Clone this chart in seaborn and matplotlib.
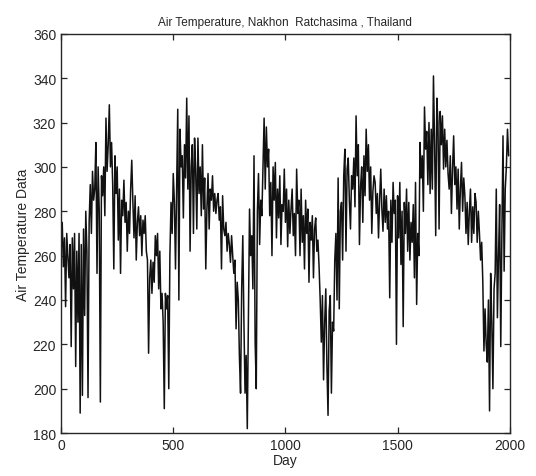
import numpy as np
import pandas as pd
import matplotlib
matplotlib.use("Agg")
import matplotlib.pyplot as plt
import seaborn as sns

# valores, um a cada 5 dias (blocos de 50 dias)
temp = [
    262, 275, 255, 268, 237, 270, 260, 250, 265, 219,
    268, 245, 270, 210, 262, 230, 270, 189, 265, 197,
    272, 233, 280, 262, 196, 275, 292, 270, 298, 285,
    290, 311, 252, 300, 280, 194, 296, 287, 300, 278,
    322, 298, 310, 328, 300, 311, 292, 254, 305, 288,
    300, 267, 290, 252, 285, 278, 294, 275, 284, 262,
    280, 270, 290, 303, 284, 268, 287, 258, 275, 282,
    269, 278, 260, 276, 270, 278, 262, 258, 216, 250,
    258, 243, 257, 248, 269, 260, 270, 245, 262, 236,
    243, 230, 191, 243, 236, 242, 200, 260, 284, 270,
    297, 284, 254, 290, 326, 240, 317, 300, 305, 277,
    310, 295, 331, 290, 323, 262, 300, 310, 270, 313,
    298, 272, 313, 288, 300, 278, 310, 281, 295, 254,
    281, 297, 272, 290, 285, 296, 280, 288, 279, 285,
    288, 276, 282, 254, 287, 272, 269, 275, 262, 270,
    265, 257, 269, 260, 252, 258, 227, 248, 240, 214,
    198, 245, 269, 230, 198, 215, 182, 230, 281, 260,
    269, 245, 305, 221, 200, 280, 297, 265, 285, 278,
    300, 322, 290, 318, 300, 308, 278, 293, 260, 300,
    285, 302, 268, 290, 277, 296, 265, 283, 280, 299,
    275, 290, 264, 285, 270, 281, 290, 269, 279, 260,
    299, 279, 285, 260, 290, 266, 278, 254, 285, 270,
    281, 248, 275, 267, 278, 250, 272, 277, 262, 267,
    255, 240, 221, 242, 204, 230, 245, 210, 188, 235,
    242, 198, 230, 226, 258, 270, 240, 295, 236, 280,
    284, 258, 296, 308, 262, 299, 304, 285, 272, 296,
    290, 304, 282, 323, 296, 310, 265, 291, 300, 275,
    305, 287, 317, 298, 310, 285, 300, 270, 289, 296,
    293, 279, 288, 268, 285, 299, 281, 271, 290, 275,
    287, 272, 280, 241, 285, 266, 293, 279, 285, 220,
    287, 268, 293, 256, 280, 228, 284, 270, 290, 262,
    284, 258, 275, 266, 283, 250, 293, 238, 270, 260,
    311, 295, 305, 280, 327, 308, 316, 292, 320, 288,
    317, 290, 341, 310, 269, 331, 320, 272, 325, 310,
    323, 299, 317, 300, 312, 297, 290, 305, 279, 299,
    314, 292, 300, 281, 299, 272, 290, 302, 280, 295,
    287, 270, 284, 265, 280, 290, 266, 282, 270, 288,
    284, 266, 280, 270, 258, 266, 248, 217, 236, 220,
    212, 240, 190, 252, 230, 200, 245, 252, 290, 232,
    260, 283, 219, 270, 314, 253, 290, 300, 317, 305,
]
dia = np.arange(0, 5 * len(temp), 5)

xticks = [0, 500, 1000, 1500, 2000]
yticks = [180, 200, 220, 240, 260, 280, 300, 320, 340, 360]

sns.set_style("ticks")
plt.rcParams['font.family'] = ['Liberation Sans', 'DejaVu Sans']
plt.rcParams['xtick.direction'] = 'in'
plt.rcParams['ytick.direction'] = 'in'

df = pd.DataFrame({'Day': dia, 'Temp': temp})

fig = plt.figure(figsize=(5.36, 4.77), dpi=100)
ax = fig.add_axes([0.114, 0.090, 0.837, 0.837])
sns.lineplot(data=df, x='Day', y='Temp', color='#111111', linewidth=1.1, ax=ax)

ax.set_xlim(0, 2000)
ax.set_ylim(180, 360)
ax.set_xticks(xticks)
ax.set_yticks(yticks)
ax.tick_params(top=True, right=True, labelsize=10, length=4, width=0.9)
for s in ax.spines.values():
    s.set_visible(True)
    s.set_linewidth(1.0)
ax.set_xlabel('Day', fontsize=10, labelpad=1)
ax.set_ylabel('Air Temperature Data', fontsize=10, labelpad=2)
ax.set_title('Air Temperature, Nakhon  Ratchasima , Thailand', fontsize=8.5, pad=6)

fig.savefig('out.png', dpi=100)
